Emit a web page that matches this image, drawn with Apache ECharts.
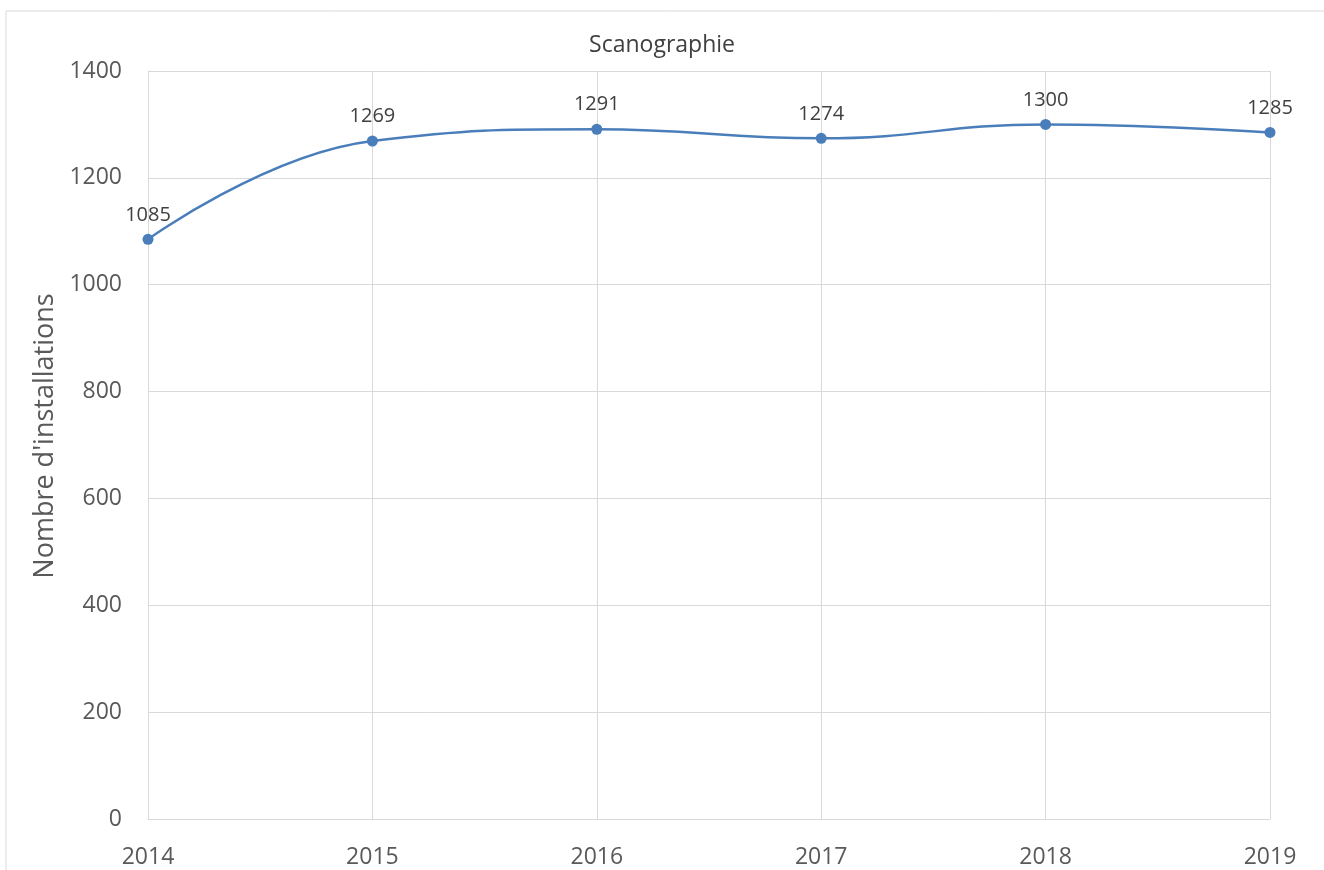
<!DOCTYPE html>
<html lang="fr">
<head>
    <meta charset="UTF-8">
    <title>Scanographie</title>
    <script src="https://cdn.jsdelivr.net/npm/echarts@6/dist/echarts.min.js"></script>
    <style>
        body { margin: 0; padding: 0; background: #fff; }
        #chart { width: 1324px; height: 870px; }
    </style>
</head>
<body>
<div id="chart"></div>
<script>
    // données
    const years = ['2014', '2015', '2016', '2017', '2018', '2019'];
    const installations = [1085, 1269, 1291, 1274, 1300, 1285];
    const yTicks = { min: 0, max: 1400, interval: 200 };

    const font = '"Open Sans", "Noto Sans", sans-serif';
    const chart = echarts.init(document.getElementById('chart'));

    chart.setOption({
        backgroundColor: '#fff',
        animation: false,
        title: {
            text: 'Scanographie',
            left: 'center',
            top: 29,
            textStyle: { fontFamily: font, fontSize: 23, fontWeight: 'normal', color: '#404040' }
        },
        graphic: [{
            type: 'rect',
            shape: { x: 6, y: 11, width: 1330, height: 880 },
            style: { fill: 'none', stroke: '#d9d9d9', lineWidth: 1 },
            silent: true
        }],
        grid: { left: 148, right: 54, top: 71, bottom: 51, containLabel: false },
        xAxis: {
            type: 'category',
            data: years,
            boundaryGap: false,
            axisLine: { show: true, lineStyle: { color: '#d9d9d9' } },
            axisTick: { show: false },
            axisLabel: { fontFamily: font, fontSize: 23, color: '#595959', margin: 27 },
            splitLine: { show: true, lineStyle: { color: '#d9d9d9', width: 1 } }
        },
        yAxis: {
            type: 'value',
            min: yTicks.min,
            max: yTicks.max,
            interval: yTicks.interval,
            name: "Nombre d'installations",
            nameLocation: 'middle',
            nameGap: 79,
            nameRotate: 90,
            nameTextStyle: { fontFamily: font, fontSize: 27, color: '#595959', padding: [0, 0, 0, 18] },
            axisLine: { show: true, lineStyle: { color: '#d9d9d9' } },
            axisTick: { show: false },
            axisLabel: {
                fontFamily: font, fontSize: 23, color: '#595959', margin: 26,
                formatter: v => String(v)
            },
            splitLine: { show: true, lineStyle: { color: '#d9d9d9', width: 1 } }
        },
        series: [{
            type: 'line',
            data: installations,
            smooth: 0.45,
            symbol: 'circle',
            symbolSize: 11,
            itemStyle: { color: '#4a7ebb' },
            lineStyle: { color: '#4a7ebb', width: 2.5 },
            label: {
                show: true,
                position: 'top',
                distance: 9,
                fontFamily: font,
                fontSize: 20,
                color: '#404040'
            }
        }]
    });
</script>
</body>
</html>
